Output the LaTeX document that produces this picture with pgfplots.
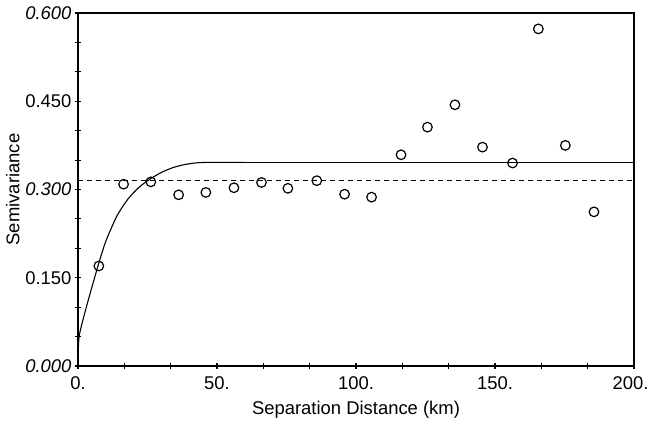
\documentclass[border=0pt]{standalone}
\usepackage{fontspec}
\setmainfont{Liberation Sans}
\usepackage{pgfplots}
\pgfplotsset{compat=1.18}
\begin{document}
\begin{tikzpicture}
\useasboundingbox (-78bp,-57bp) rectangle (571bp,353bp+13bp);
\begin{axis}[
  at={(0,0)}, anchor=south west,
  scale only axis, width=556bp, height=353bp,
  xmin=0, xmax=200, ymin=0, ymax=0.6,
  axis line style={line width=1.3pt},
  font=\fontsize{18.5}{21}\selectfont,
  xtick={0,50,100,150,200},
  xticklabels={0.,50.,100.,150.,\hspace*{-7bp}200.},
  ytick={0,0.15,0.3,0.45,0.6},
  yticklabels={\textit{0.000},0.150,\textit{0.300},0.450,\textit{0.600}},
  minor xtick={16.667,33.333,66.667,83.333,116.667,133.333,166.667,183.333},
  minor ytick={0.05,0.1,0.2,0.25,0.35,0.4,0.5,0.55},
  tick pos=left,
  tick align=center,
  major tick length=6bp, minor tick length=6bp,
  every tick/.style={line width=1.1pt, black},
  xticklabel style={yshift=-4bp},
  xlabel={Separation Distance (km)},
  ylabel={Semivariance},
  xlabel style={yshift=-5bp},
  ylabel style={yshift=-1bp},
  clip=false,
]
\addplot[black, line width=1.1pt, dash pattern=on 5bp off 4bp] coordinates {(0,0.315) (200,0.315)};
\addplot[black, line width=1.1pt, smooth, tension=0.4] coordinates {
(0,0) (0.4,0.05) (3,0.10) (7,0.167) (10,0.212) (14,0.255) (18,0.284) (22,0.304) (26,0.318) (30,0.329) (34,0.337) (38,0.342) (42,0.345) (46,0.346) (60,0.346)};
\addplot[black, line width=1.1pt] coordinates {(60,0.346) (200,0.346)};
\addplot[only marks, mark=o, mark size=4.8bp, mark options={line width=1.2pt, black, fill=white}] coordinates {
(7.5,0.170) (16.4,0.309) (26.2,0.313) (36.2,0.291) (46,0.295) (56.1,0.303) (66,0.312) (75.5,0.302) (85.9,0.315) (95.9,0.292) (105.6,0.287) (116.2,0.359) (125.7,0.406) (135.6,0.444) (145.5,0.372) (156.3,0.345) (165.6,0.573) (175.3,0.375) (185.6,0.262)};
\end{axis}
\end{tikzpicture}
\end{document}
